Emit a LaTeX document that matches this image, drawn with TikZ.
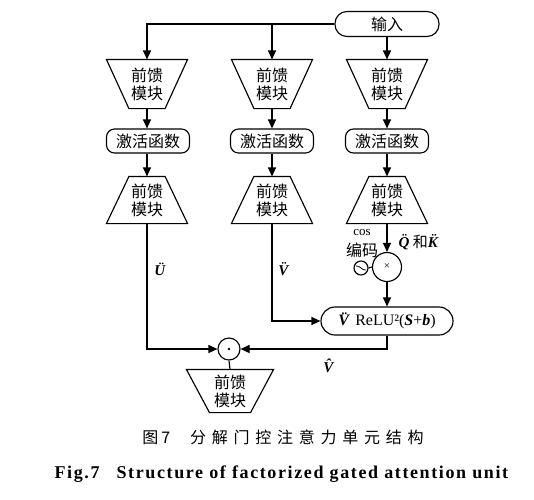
\documentclass[tikz,border=0pt]{standalone}
\usepackage{fontspec}
\setmainfont{Liberation Serif}
\newfontfamily\cjk{Noto Sans CJK SC}
\newfontfamily\cjkcap[LetterSpace=36]{Noto Sans CJK SC}
\newfontfamily\capfont[LetterSpace=9]{Liberation Serif}
\usetikzlibrary{arrows.meta,shapes.geometric}
\newcommand\ddm[1]{\textbf{\textit{#1^^^^0308}}}
\newcommand\trapdown[2]{\draw (#1.north west) -- (#1.north east) -- ([xshift=-#2]#1.south east) -- ([xshift=#2]#1.south west) -- cycle;}
\newcommand\trapup[2]{\draw ([xshift=#2]#1.north west) -- ([xshift=-#2]#1.north east) -- (#1.south east) -- (#1.south west) -- cycle;}
\begin{document}
\begin{tikzpicture}[x=1pt,y=-1pt,line width=1.15pt,
  >={Triangle[length=9pt,width=8pt]},
  ffbox/.style={minimum width=80pt,minimum height=48pt,inner sep=0pt,align=center,
    font=\cjk\fontsize{16}{18}\selectfont},
  actbox/.style={draw,rounded corners=8pt,minimum width=83pt,minimum height=24pt,inner sep=0pt,
    font=\cjk\fontsize{16}{18}\selectfont},
  pill/.style={draw,rounded corners=12pt,inner sep=0pt},
  lbl/.style={font=\fontsize{15}{18}\selectfont,inner sep=0pt}
]
\useasboundingbox (0,0) rectangle (534,499);

% input
\node[pill,minimum width=104pt,minimum height=25pt,font=\cjk\fontsize{16}{18}\selectfont] (in) at (387,24) {输入};

% first feed-forward row
\node[ffbox] (f1) at (147,84) {前馈\\模块};
\node[ffbox] (f2) at (272,84) {前馈\\模块};
\node[ffbox] (f3) at (387,84) {前馈\\模块};
\trapdown{f1}{22.5pt}
\trapdown{f2}{22.5pt}
\trapdown{f3}{22.5pt}

% activation
\node[actbox] (a1) at (148,141) {激活函数};
\node[actbox] (a2) at (272,141) {激活函数};
\node[actbox] (a3) at (387,141) {激活函数};

% second feed-forward row
\node[ffbox,minimum height=46pt] (g1) at (147,200) {前馈\\模块};
\node[ffbox,minimum height=46pt] (g2) at (272,200) {前馈\\模块};
\node[ffbox,minimum height=46pt] (g3) at (387,200) {前馈\\模块};
\trapup{g1}{22.5pt}
\trapup{g2}{22.5pt}
\trapup{g3}{22.5pt}

% multiply, cos
\node[draw,circle,minimum size=29pt,inner sep=0pt,font=\fontsize{11}{12}\selectfont] (mul) at (387,267) {×};
\node[draw,circle,minimum size=14pt,inner sep=0pt] (cosc) at (361,268) {};
\draw[line width=0.8pt] ([xshift=-5pt,yshift=2pt]cosc.center) .. controls ([xshift=-1pt,yshift=3pt]cosc.center) and ([xshift=1pt,yshift=-3pt]cosc.center) .. ([xshift=5pt,yshift=-2pt]cosc.center);
\node[lbl,font=\fontsize{13}{14}\selectfont] (coslbl) at (362,232) {cos};
\node[lbl,font=\cjk\fontsize{16}{18}\selectfont] (enc) at (362,250) {编码};
\node[lbl,anchor=west] (qk) at (398,242) {\ddm{Q}{\cjk 和}\ddm{K}};

% relu
\node[pill,rounded corners=14pt,minimum width=132pt,minimum height=28pt,font=\fontsize{16}{18}\selectfont] (relu) at (387,321)
  {\ddm{V}\,ReLU²(\textbf{\textit{S}}+\textbf{\textit{b}})};

% odot
\node[draw,circle,minimum size=22pt,inner sep=0pt] (dot) at (229,349) {};
\fill (dot.center) circle (1.4pt);

% final feed-forward
\node[ffbox,minimum width=86pt,minimum height=42pt] (ff) at (230,391) {前馈\\模块};
\trapdown{ff}{23pt}

% labels
\node[lbl] (lu) at (160,269) {\ddm{U}};
\node[lbl] (lv) at (285,269) {\ddm{V}};
\node[lbl] (lvh) at (330,366) {\textbf{\textit{V^^^^0302}}};

% connectors
\draw[->] (in.west) -| (f1.north);
\draw[->] (f2.north |- in.west) -- (f2.north);
\draw[->] (in.south) -- (f3.north);
\foreach \i in {1,2,3}{
  \draw[->] (f\i.south) -- (a\i.north -| f\i.south);
  \draw[->] (a\i.south -| f\i.south) -- (g\i.north);
}
\draw[->] (g1.south) |- (dot.west);
\draw[->] (g2.south) |- (relu.west);
\draw[->] (g3.south) -- (mul.north);
\draw (cosc.east) -- (mul.west);
\draw[->] (mul.south) -- (relu.north);
\draw[->] (relu.south) |- (dot.east);
\draw (dot.south) -- (ff.north);

% captions
\node[inner sep=0pt,font=\cjkcap\fontsize{16}{18}\selectfont] (cap1) at (283,437) {图\hspace{3pt}7\hspace{20pt}分解门控注意力单元结构};
\node[inner sep=0pt,anchor=base west,font=\capfont\bfseries\fontsize{18}{20}\selectfont] (cap2) at (54,478) {Fig.7\hspace{17pt}Structure of factorized gated attention unit};
\end{tikzpicture}
\end{document}
